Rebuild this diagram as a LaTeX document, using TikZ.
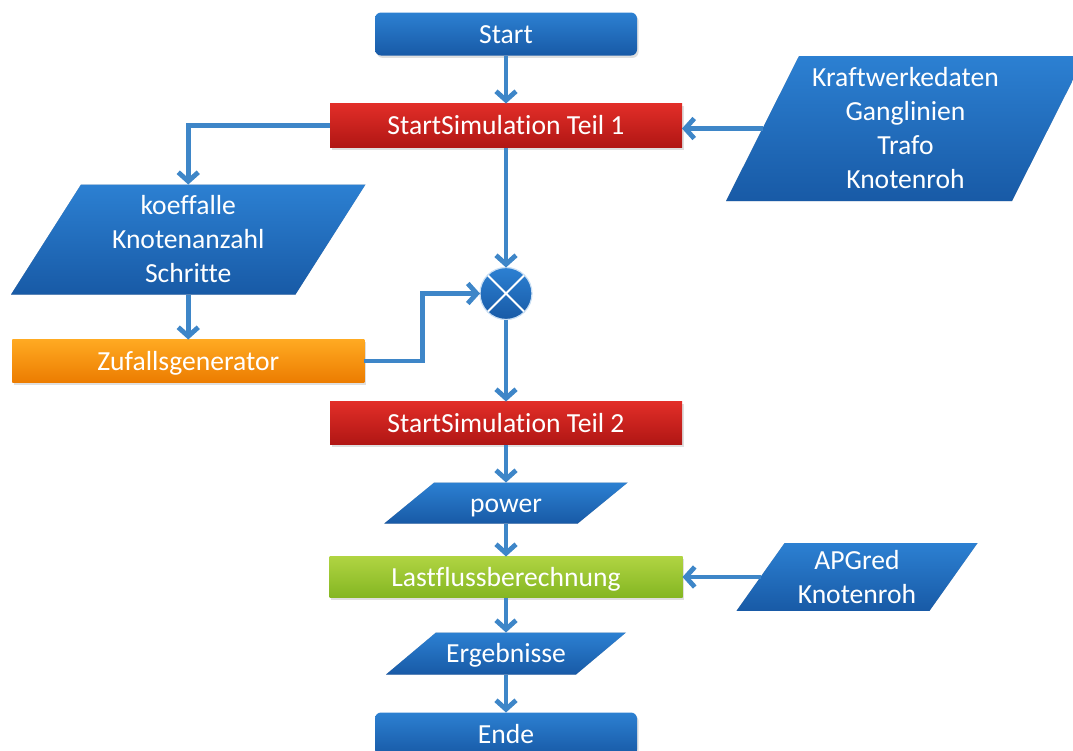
\documentclass[tikz,border=0pt]{standalone}
\usepackage{fontspec}
\setmainfont{Carlito}[Ligatures={NoCommon}]
\usetikzlibrary{shapes.geometric, arrows.meta, positioning, shadows, backgrounds}
\definecolor{boxblue}{RGB}{44,128,210}
\definecolor{boxbluedark}{RGB}{24,90,166}
\definecolor{boxred}{RGB}{226,46,40}
\definecolor{boxreddark}{RGB}{176,22,20}
\definecolor{boxorange}{RGB}{255,170,34}
\definecolor{boxorangedark}{RGB}{236,124,0}
\definecolor{boxgreen}{RGB}{176,212,66}
\definecolor{boxgreendark}{RGB}{132,182,34}
\definecolor{arrowblue}{RGB}{62,134,200}
% outline of a data parallelogram round node #1, slanted by #2
\newcommand{\iooutline}[2]{([xshift=#2/2]#1.north west) -- ([xshift=#2/2]#1.north east) -- ([xshift=-#2/2]#1.south east) -- ([xshift=-#2/2]#1.south west) -- cycle}
\tikzset{
    textstyle/.style={text=white, inner sep=0pt, outer sep=0pt, align=center, font=\fontsize{13.8}{17}\selectfont,
        execute at begin node={\rule{0pt}{0.952em}}, execute at end node={\rule[-0.269em]{0pt}{0.269em}}},
    multiline/.style={execute at begin node={\rule{0pt}{\dimexpr0.952em+17pt*\numexpr#1-1\relax\relax}}},
    base/.style={textstyle, drop shadow={shadow xshift=0.8pt, shadow yshift=-1.2pt, opacity=0.25}},
    startstop/.style={base, rectangle, rounded corners=3pt, minimum width=131pt, minimum height=21.5pt, top color=boxblue, bottom color=boxbluedark},
    process/.style={base, rectangle, minimum width=176pt, minimum height=22pt, top color=boxred, bottom color=boxreddark},
    randgen/.style={base, rectangle, minimum width=176pt, minimum height=21.5pt, top color=boxorange, bottom color=boxorangedark},
    loadflow/.style={base, rectangle, minimum width=176.5pt, minimum height=20.5pt, top color=boxgreen, bottom color=boxgreendark},
    io/.style={textstyle, rectangle},
    junction/.style={circle, minimum size=26pt, inner sep=0pt, outer sep=0pt, top color=boxblue, bottom color=boxbluedark, draw=white!75!boxblue, line width=0.6pt,
        path picture={\draw[white, line width=0.9pt] (path picture bounding box.north west) -- (path picture bounding box.south east)
                      (path picture bounding box.north east) -- (path picture bounding box.south west);}},
    arrow/.style={line width=2.4pt, draw=arrowblue, ->, >={Straight Barb[length=4.5pt, width=10pt]}}
}
\begin{document}
\begin{tikzpicture}

\useasboundingbox (0,0) rectangle (536.5pt,-375.5pt);

% Nodes
\node (start) [startstop] at (253pt,-17pt) {Start};
\node (sim1) [process, below=24pt of start] {StartSimulation Teil 1};
\node (kraft) [io, multiline=4, minimum width=143pt, minimum height=72.5pt, right=40.25pt of sim1, yshift=-1.5pt] {Kraftwerkedaten\\Ganglinien\\Trafo\\Knotenroh};
\node (sum) [junction, below=60pt of sim1] {};
\node (koeff) [io, multiline=3, minimum width=142.25pt, minimum height=55pt, left=74.75pt of sum, yshift=27pt] {koeffalle\\Knotenanzahl\\Schritte};
\node (zuf) [randgen, below=22.5pt of koeff] {Zufallsgenerator};
\node (sim2) [process, minimum height=21.5pt, below=41pt of sum] {StartSimulation Teil 2};
\node (power) [io, minimum width=96.75pt, minimum height=20.5pt, below=19pt of sim2] {power};
\node (last) [loadflow, below=16.5pt of power] {Lastflussberechnung};
\node (apg) [io, multiline=2, minimum width=96.5pt, minimum height=32.5pt, right=39pt of last] {APGred\\Knotenroh};
\node (erg) [io, minimum width=95pt, minimum height=21pt, below=17.5pt of last] {Ergebnisse};
\node (ende) [startstop, below=19pt of erg] {Ende};

% Parallelograms behind the data nodes
\begin{pgfonlayer}{background}
\foreach \n/\s in {kraft/36.5pt, koeff/35pt, power/25pt, apg/24pt, erg/25pt} {
    \fill [black, opacity=0.25, xshift=0.8pt, yshift=-1.2pt] \iooutline{\n}{\s};
    \shade [top color=boxblue, bottom color=boxbluedark] \iooutline{\n}{\s};
}
\end{pgfonlayer}

% Connectors
\draw [arrow] (start) -- (sim1);
\draw [arrow] (kraft) -- (kraft -| sim1.east);
\draw [arrow] (sim1) -| (koeff);
\draw [arrow] (sim1) -- (sum);
\draw [arrow] (koeff) -- (zuf);
\draw [arrow] (zuf.east) -- ++(29pt,0) |- (sum);
\draw [arrow] (sum) -- (sim2);
\draw [arrow] (sim2) -- (power);
\draw [arrow] (power) -- (last);
\draw [arrow] (apg) -- (last);
\draw [arrow] (last) -- (erg);
\draw [arrow] (erg) -- (ende);

\end{tikzpicture}
\end{document}
